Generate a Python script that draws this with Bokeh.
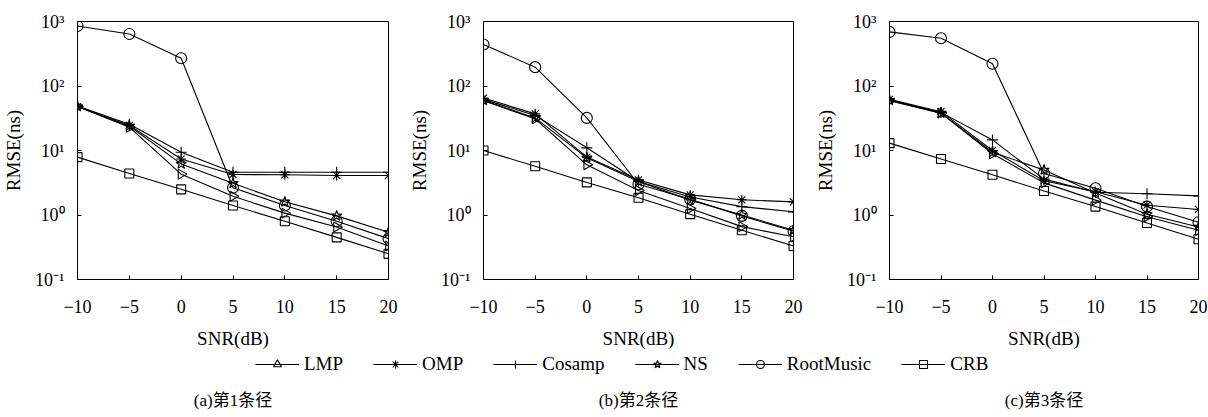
import math
from bokeh.plotting import figure
from bokeh.layouts import column, row
from bokeh.models import (FixedTicker, CustomJSTickFormatter, Range1d, Legend,
                          LegendItem, Label, ColumnDataSource)
from bokeh.embed import file_html
from bokeh.resources import INLINE

# ---------------- data ----------------
snr = [-10, -5, 0, 5, 10, 15, 20]
series_names = ["LMP", "OMP", "Cosamp", "NS", "RootMusic", "CRB"]
y_ticks = [0.1, 1, 10, 100, 1000]
captions = ["(a)第1条径", "(b)第2条径", "(c)第3条径"]
x_label = "SNR(dB)"
y_label = "RMSE(ns)"

path1_lmp = [48, 23, 4.3, 1.95, 1.07, 0.65, 0.33]
path1_omp = [48, 24.5, 7.4, 4.25, 4.2, 4.1, 4.1]
path1_cosamp = [49, 25.5, 9.4, 4.6, 4.6, 4.6, 4.6]
path1_ns = [48, 24, 6.2, 3.1, 1.6, 0.97, 0.54]
path1_rootmusic = [850, 640, 270, 2.65, 1.4, 0.8, 0.43]
path1_crb = [7.9, 4.4, 2.5, 1.4, 0.8, 0.45, 0.25]

path2_lmp = [59, 31, 6.0, 2.4, 1.26, 0.66, 0.46]
path2_omp = [65, 37, 7.9, 3.5, 2.05, 1.72, 1.6]
path2_cosamp = [62, 35, 11, 3.3, 1.9, 1.35, 1.12]
path2_ns = [60, 32, 7.7, 3.3, 1.7, 1.0, 0.58]
path2_rootmusic = [440, 196, 32, 3.0, 1.75, 0.97, 0.56]
path2_crb = [10, 5.7, 3.2, 1.85, 1.03, 0.58, 0.33]

path3_lmp = [59, 38, 8.9, 3.15, 1.7, 0.94, 0.58]
path3_omp = [62, 40, 10, 3.4, 2.3, 1.42, 1.22]
path3_cosamp = [60, 39, 14.6, 3.6, 2.25, 2.13, 1.98]
path3_ns = [60, 38, 9.4, 5.0, 2.2, 1.03, 0.65]
path3_rootmusic = [690, 550, 221, 4.4, 2.6, 1.35, 0.77]
path3_crb = [13, 7.4, 4.2, 2.35, 1.35, 0.75, 0.42]

panels = [
    [path1_lmp, path1_omp, path1_cosamp, path1_ns, path1_rootmusic, path1_crb],
    [path2_lmp, path2_omp, path2_cosamp, path2_ns, path2_rootmusic, path2_crb],
    [path3_lmp, path3_omp, path3_cosamp, path3_ns, path3_rootmusic, path3_crb],
]

# ---------------- style ----------------
FONT = "Liberation Serif"
markers = ["triangle", "asterisk", "cross", "star", "circle", "square"]
angles = [-math.pi / 2, 0, 0, 0, 0, 0]
sizes = [10, 10, 11, 11, 11, 9]

y_fmt = CustomJSTickFormatter(code="""
const e = Math.round(Math.log10(tick));
const sup = {'-':'\u207b','0':'\u2070','1':'\u00b9','2':'\u00b2','3':'\u00b3'};
return '10' + String(e).split('').map(c => sup[c]).join('');
""")
x_fmt = CustomJSTickFormatter(code="return String(tick).replace('-', '\u2212');")

# (figure width, border left, border right)
geoms = [(400, 77, 12), (406, 83, 13), (402, 83, 10)]
FIG_H = 353
B_TOP = 21
B_BOT = 74

figs = []
sources = []
for k, (w, bl, br) in enumerate(geoms):
    p = figure(width=w, height=FIG_H, y_axis_type="log",
               x_range=Range1d(-10, 20), y_range=Range1d(0.1, 1000),
               output_backend="svg", toolbar_location=None,
               min_border_left=bl, min_border_right=br,
               min_border_top=B_TOP, min_border_bottom=B_BOT)
    p.grid.visible = False
    p.outline_line_color = "black"
    p.outline_line_width = 1
    p.outline_line_alpha = 1

    for ax in (p.xaxis[0], p.yaxis[0]):
        ax.axis_line_color = "black"
        ax.major_tick_in = 4
        ax.major_tick_out = 0
        ax.minor_tick_in = 0
        ax.minor_tick_out = 0
        ax.major_tick_line_color = "black"
        ax.major_label_text_font = FONT
        ax.major_label_text_color = "black"
        ax.axis_label_text_font = FONT
        ax.axis_label_text_font_style = "normal"
        ax.axis_label_text_font_size = "19px"
        ax.axis_label_text_color = "black"

    p.xaxis.ticker = FixedTicker(ticks=snr, minor_ticks=[])
    p.xaxis.formatter = x_fmt
    p.xaxis.axis_label = x_label
    p.xaxis.major_label_text_font_size = "18px"
    p.xaxis.major_label_standoff = 20
    p.xaxis.axis_label_standoff = 12

    p.yaxis.ticker = FixedTicker(ticks=y_ticks, minor_ticks=[])
    p.yaxis.formatter = y_fmt
    p.yaxis.axis_label = y_label
    p.yaxis.major_label_text_font_size = "18px"
    p.yaxis.major_label_standoff = 13
    p.yaxis.axis_label_standoff = 8

    panel_sources = []
    for vals, m, a, s in zip(panels[k], markers, angles, sizes):
        src = ColumnDataSource(dict(x=snr, y=vals))
        panel_sources.append(src)
        p.line("x", "y", source=src, line_color="black", line_width=1.1)
        p.scatter("x", "y", source=src, marker=m, angle=a, size=s,
                  line_color="black", line_width=1.1, fill_alpha=0)
    sources.append(panel_sources)
    figs.append(p)

# ---------------- legend + captions strip ----------------
# the strip's ranges are far away from the data so its renderers only feed the legend
strip = figure(width=1208, height=64, output_backend="svg", toolbar_location=None,
               x_range=Range1d(1000, 1001), y_range=Range1d(1000, 1001),
               x_axis_location=None, y_axis_location=None,
               min_border=0, min_border_left=0, min_border_right=0,
               min_border_top=0, min_border_bottom=0)
strip.grid.visible = False
strip.outline_line_color = None

items = []
for name, m, a, src in zip(series_names, markers, angles, sources[0]):
    lr = strip.line("x", "y", source=src, line_color="black", line_width=1.1)
    sr = strip.scatter("x", "y", source=src, marker=m, angle=a, size=8,
                       line_color="black", line_width=1.1, fill_alpha=0)
    items.append(LegendItem(label=name, renderers=[lr, sr]))

leg = Legend(items=items, orientation="horizontal", location=(255, 42),
             glyph_width=44, glyph_height=20, label_height=20, label_width=10,
             label_standoff=5, spacing=30, padding=0, margin=0,
             border_line_color=None, background_fill_alpha=0,
             label_text_font=FONT, label_text_font_size="19px",
             label_text_color="black")
strip.add_layout(leg)

cap_x = [232.5, 638, 1043.5]
for cx, txt in zip(cap_x, captions):
    strip.add_layout(Label(x=cx, y=17, x_units="screen", y_units="screen",
                           text=txt, text_align="center", text_baseline="middle",
                           text_font="Liberation Serif, Noto Sans CJK SC",
                           text_font_size="17px", text_color="black"))

layout = column(row(*figs, spacing=0), strip, spacing=0)
open("out.html", "w").write(file_html(layout, INLINE))
